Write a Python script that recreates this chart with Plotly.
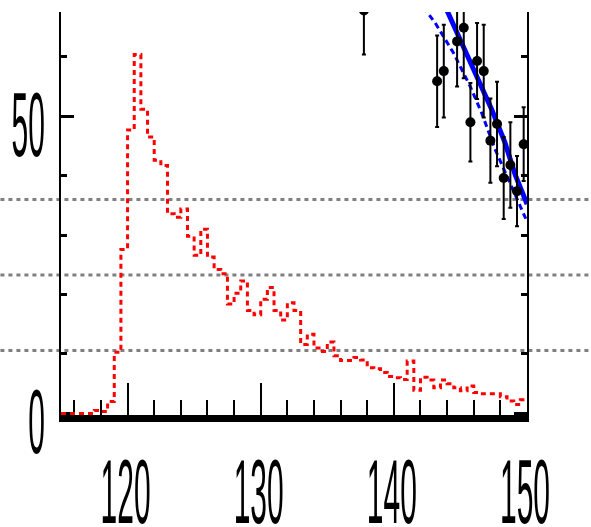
import numpy as np
import plotly.graph_objects as go

# ---- data ----
bin_lo, bin_hi, bin_w = 115.0, 150.0, 0.5
hist_values = [0, 0, 0, 0, 0, 0.5, 0.3, 2.0, 10.3, 27.6,
               47.7, 60.4, 51.2, 46.5, 42.6, 41.7, 33.6, 33.0, 34.4, 29.8,
               26.6, 31.0, 26.3, 24.2, 23.5, 18.4, 20.2, 22.3, 17.3, 16.6,
               19.2, 21.2, 17.3, 15.7, 18.6, 17.3, 11.6, 13.3, 11.0, 10.4,
               12.0, 9.7, 8.9, 8.9, 9.4, 9.0, 7.7, 7.5, 6.9, 6.2,
               6.0, 5.7, 8.8, 3.9, 6.1, 5.6, 4.3, 5.6, 5.0, 4.3,
               3.8, 4.6, 3.5, 3.3, 3.3, 3.3, 2.8, 2.1, 1.5, 2.3]

pts_x = [137.75, 143.25, 143.75, 144.75, 145.25, 145.75, 146.25, 146.75,
         147.25, 147.75, 148.25, 148.75, 149.25, 149.75]
pts_y = [67.8, 55.9, 57.6, 62.6, 64.9, 49.0, 59.3, 57.6,
         45.9, 48.7, 39.6, 41.8, 37.4, 45.3]
pts_err = [7.4, 7.7, 7.8, 7.6, 8.5, 6.6, 6.4, 7.8,
           7.1, 7.1, 6.9, 7.2, 5.9, 6.2]

fit_x = [143.7, 143.98, 145.10, 146.22, 147.34, 148.34, 149.13, 149.83, 150.0]
fit_y = [69.5, 67.87, 62.3, 56.7, 51.2, 45.6, 40.05, 36.2, 35.2]

alt_x = [142.3, 142.51, 143.11, 144.48, 145.72, 146.59, 147.59, 148.71, 149.46, 150.0]
alt_y = [68.5, 67.5, 65.7, 60.65, 55.1, 50.6, 44.5, 38.9, 35.0, 32.3]

ref_levels = [36.0, 23.3, 10.6]

x_range = [115, 150]
y_range = [-0.27, 67.55]

# ---- figure ----
edges = np.arange(bin_lo, bin_hi + bin_w / 2, bin_w)
step_y = list(hist_values) + [hist_values[-1]]

fig = go.Figure()
fig.add_trace(go.Scatter(x=edges, y=step_y, mode="lines", line_shape="hv",
                         line=dict(color="#ff0000", width=3, dash="5px,4px"),
                         hoverinfo="skip"))
fig.add_trace(go.Scatter(x=alt_x, y=alt_y, mode="lines",
                         line=dict(color="#0000ff", width=3, dash="6px,4px")))
fig.add_trace(go.Scatter(x=fit_x, y=fit_y, mode="lines",
                         line=dict(color="#0000ff", width=5)))
fig.add_trace(go.Scatter(x=pts_x, y=pts_y, mode="markers",
                         marker=dict(color="black", size=10),
                         error_y=dict(type="data", array=pts_err, visible=True,
                                      color="black", thickness=2, width=2)))

for lv in ref_levels:
    fig.add_shape(type="line", xref="paper", yref="y", x0=-0.13, x1=1.14,
                  y0=lv, y1=lv, layer="below",
                  line=dict(color="#808080", width=3, dash="4px,4px"))

tick_font = dict(family="Liberation Sans", size=30, color="black")
fig.update_layout(
    width=591, height=527,
    margin=dict(l=58, r=64, t=12, b=112),
    plot_bgcolor="white", paper_bgcolor="white",
    showlegend=False,
    xaxis=dict(range=x_range, showline=True, linecolor="black", linewidth=7,
               ticks="inside", ticklen=32, tickwidth=2, tickcolor="black",
               tick0=0, dtick=10,
               minor=dict(dtick=2, ticklen=15, tickwidth=2, tickcolor="black",
                          ticks="inside", showgrid=False),
               showgrid=False, zeroline=False, tickfont=tick_font,
               ticklabelstandoff=44, layer="below traces"),
    yaxis=dict(range=y_range, showline=True, linecolor="black", linewidth=2,
               mirror="ticks",
               ticks="inside", ticklen=13, tickwidth=3, tickcolor="black",
               tick0=0, dtick=50,
               minor=dict(dtick=10, ticklen=6, tickwidth=3, tickcolor="black",
                          ticks="inside", showgrid=False),
               showgrid=False, zeroline=False, tickfont=tick_font,
               ticklabelstandoff=8, layer="below traces"),
)

post = """
document.body.style.margin = '0';
var gd = document.getElementById('{plot_id}');
gd.querySelectorAll('g.xtick').forEach(function(g){
  g.style.transformBox = 'fill-box';
  g.style.transformOrigin = 'center';
  g.style.transform = 'translateX(-2px) scaleY(3)';
});
gd.querySelectorAll('g.ytick').forEach(function(g){
  g.style.transformBox = 'fill-box';
  g.style.transformOrigin = 'center';
  g.style.transform = 'translateY(8px) scaleY(3)';
});
"""
fig.write_html("out.html", post_script=post, config={"displayModeBar": False})
